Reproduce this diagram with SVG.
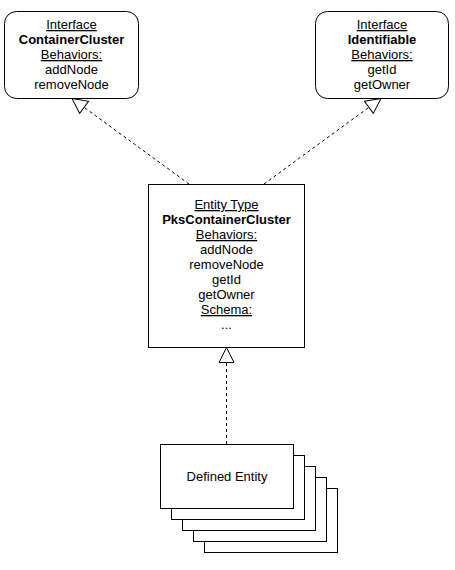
<svg xmlns="http://www.w3.org/2000/svg" width="455" height="570" viewBox="0 0 455 570">
  <style>
    .box { fill: #ffffff; stroke: #000000; stroke-width: 1; }
    .t { font-family: "Liberation Sans", Arial, sans-serif; font-size: 13px; fill: #000000; text-anchor: middle; }
    .u { text-decoration: underline; }
    .b { font-weight: bold; }
    .edge { fill: none; stroke: #000000; stroke-width: 1; stroke-dasharray: 3 3; }
  </style>
  <defs>
    <marker id="tri" viewBox="0 0 15 15" refX="15" refY="7.5" markerWidth="15" markerHeight="15" markerUnits="userSpaceOnUse" orient="auto" overflow="visible">
      <path d="M0,0 L15,7.5 L0,15 Z" fill="#ffffff" stroke="#000000" stroke-width="1" stroke-dasharray="none"/>
    </marker>
  </defs>
  <rect width="455" height="570" fill="#ffffff"/>

  <g id="connectors">
    <path class="edge" d="M189,184 L72,98.5" marker-end="url(#tri)"/>
    <path class="edge" d="M264,184 L381,98.5" marker-end="url(#tri)"/>
    <path class="edge" d="M226.5,444 L226.5,347.5" marker-end="url(#tri)"/>
  </g>

  <g id="containerCluster">
    <rect class="box" x="4.5" y="11.5" width="134" height="87" rx="12" ry="12"/>
    <text class="t u" x="71.5" y="29">Interface</text>
    <text class="t b" x="71.5" y="44">ContainerCluster</text>
    <text class="t u" x="71.5" y="59">Behaviors:</text>
    <text class="t" x="71.5" y="74">addNode</text>
    <text class="t" x="71.5" y="89">removeNode</text>
  </g>

  <g id="identifiable">
    <rect class="box" x="315.5" y="11.5" width="133" height="87" rx="12" ry="12"/>
    <text class="t u" x="382" y="29">Interface</text>
    <text class="t b" x="382" y="44">Identifiable</text>
    <text class="t u" x="382" y="59">Behaviors:</text>
    <text class="t" x="382" y="74">getId</text>
    <text class="t" x="382" y="89">getOwner</text>
  </g>

  <g id="pksContainerCluster">
    <rect class="box" x="148.5" y="184.5" width="156" height="163"/>
    <text class="t u" x="226.5" y="209">Entity Type</text>
    <text class="t b" x="226.5" y="224">PksContainerCluster</text>
    <text class="t u" x="226.5" y="239">Behaviors:</text>
    <text class="t" x="226.5" y="254">addNode</text>
    <text class="t" x="226.5" y="269">removeNode</text>
    <text class="t" x="226.5" y="284">getId</text>
    <text class="t" x="226.5" y="299">getOwner</text>
    <text class="t u" x="226.5" y="314">Schema:</text>
    <text class="t" x="226.5" y="329">...</text>
  </g>

  <g id="definedEntity">
    <rect class="box" x="204.5" y="488.5" width="133" height="64"/>
    <rect class="box" x="193.5" y="477.5" width="133" height="64"/>
    <rect class="box" x="182.5" y="466.5" width="133" height="64"/>
    <rect class="box" x="171.5" y="455.5" width="133" height="64"/>
    <rect class="box" x="160.5" y="444.5" width="133" height="64"/>
    <text class="t" x="227" y="481">Defined Entity</text>
  </g>
</svg>
